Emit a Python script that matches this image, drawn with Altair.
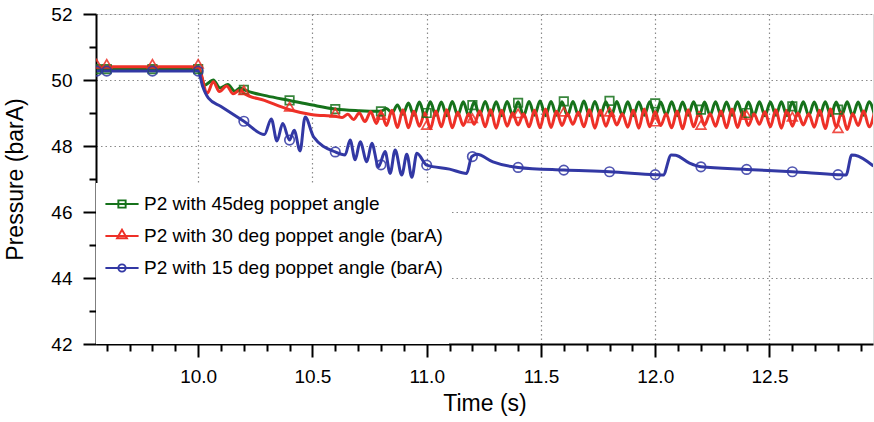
import altair as alt
import pandas as pd

# ---------------- data ----------------
S45 = "P2 with 45deg poppet angle"
S30 = "P2 with 30 deg poppet angle (barA)"
S15 = "P2 with 15 deg poppet angle (barA)"
SERIES = [S45, S30, S15]
COLORS = ["#16721b", "#ee3027", "#3238a4"]

# shared time stamps of the steady oscillation part (s)
OSC_T = [10.800, 10.824, 10.848, 10.872, 10.896, 10.920, 10.944, 10.968, 10.992, 11.016,
         11.040, 11.064, 11.088, 11.112, 11.136, 11.160, 11.184, 11.208, 11.232, 11.256,
         11.280, 11.304, 11.328, 11.352, 11.376, 11.400, 11.424, 11.448, 11.472, 11.496,
         11.520, 11.544, 11.568, 11.592, 11.616, 11.640, 11.664, 11.688, 11.712, 11.736,
         11.760, 11.784, 11.808, 11.832, 11.856, 11.880, 11.904, 11.928, 11.952, 11.976,
         12.000, 12.024, 12.048, 12.072, 12.096, 12.120, 12.144, 12.168, 12.192, 12.216,
         12.240, 12.264, 12.288, 12.312, 12.336, 12.360, 12.384, 12.408, 12.432, 12.456,
         12.480, 12.504, 12.528, 12.552, 12.576, 12.600, 12.624, 12.648, 12.672, 12.696,
         12.720, 12.744, 12.768, 12.792, 12.816, 12.840, 12.864, 12.888, 12.912, 12.936,
         12.960]

# 45 deg
G_T0 = [9.556, 9.6, 9.8, 10.0, 10.03, 10.066, 10.096, 10.13, 10.16, 10.184, 10.205,
        10.3, 10.4, 10.5, 10.6, 10.7, 10.78]
G_P0 = [50.33, 50.33, 50.33, 50.33, 49.85, 50.00, 49.76, 49.86, 49.66, 49.76, 49.69,
        49.52, 49.38, 49.24, 49.12, 49.07, 49.05]
G_OSC = [49.05, 49.14, 49.00, 49.24, 48.96, 49.30, 48.93, 49.33, 48.92, 49.34,
         48.93, 49.33, 48.92, 49.35, 48.93, 49.34, 48.92, 49.33, 48.94, 49.35,
         48.93, 49.34, 48.92, 49.35, 48.93, 49.34, 48.92, 49.35, 48.93, 49.36,
         48.92, 49.35, 48.93, 49.34, 48.92, 49.35, 48.93, 49.36, 48.92, 49.35,
         48.93, 49.34, 48.92, 49.35, 48.93, 49.34, 48.92, 49.33, 48.93, 49.34,
         48.92, 49.33, 48.93, 49.34, 48.92, 49.33, 48.93, 49.34, 48.92, 49.33,
         48.93, 49.34, 48.92, 49.33, 48.93, 49.34, 48.92, 49.33, 48.93, 49.34,
         48.92, 49.33, 48.93, 49.34, 48.92, 49.33, 48.93, 49.34, 48.92, 49.33,
         48.93, 49.34, 48.92, 49.33, 48.93, 49.34, 48.92, 49.33, 48.93, 49.34,
         48.93]

# 30 deg
R_T0 = [9.556, 9.6, 9.8, 10.0, 10.04, 10.066, 10.093, 10.125, 10.153, 10.184, 10.2,
        10.29, 10.4, 10.5, 10.6, 10.63, 10.655, 10.68, 10.705, 10.73, 10.755, 10.78]
R_P0 = [50.40, 50.40, 50.40, 50.40, 49.60, 49.95, 49.65, 49.82, 49.58, 49.70, 49.60,
        49.38, 49.10, 48.95, 48.90, 48.86, 48.96, 48.80, 49.00, 48.74, 49.04, 48.68]
R_OSC = [49.02, 48.62, 49.08, 48.56, 49.10, 48.55, 49.05, 48.60, 49.00, 48.52,
         49.06, 48.58, 49.10, 48.55, 49.02, 48.62, 48.98, 48.66, 49.06, 48.58,
         49.10, 48.54, 49.08, 48.60, 49.00, 48.64, 48.98, 48.58, 49.08, 48.55,
         49.12, 48.56, 49.05, 48.62, 48.98, 48.66, 49.02, 48.58, 49.10, 48.54,
         49.08, 48.60, 49.00, 48.64, 48.98, 48.57, 49.08, 48.54, 49.12, 48.58,
         49.04, 48.62, 48.98, 48.55, 49.06, 48.52, 49.10, 48.58, 49.02, 48.64,
         48.98, 48.60, 49.06, 48.55, 49.12, 48.56, 49.04, 48.62, 48.98, 48.66,
         49.04, 48.58, 49.10, 48.54, 49.08, 48.60, 49.00, 48.64, 48.98, 48.57,
         49.08, 48.53, 49.12, 48.56, 49.04, 48.50, 48.98, 48.62, 49.06, 48.58,
         49.04]

# 15 deg
B_T = [9.556, 9.6, 9.8, 10.0, 10.02, 10.045, 10.1, 10.2, 10.29, 10.32, 10.345, 10.37,
       10.4, 10.42, 10.446, 10.468, 10.505, 10.6, 10.643, 10.665, 10.687, 10.709, 10.738,
       10.76, 10.789, 10.818, 10.84, 10.862, 10.891, 10.913, 10.935, 10.957, 11.0, 11.1,
       11.175, 11.197, 11.22, 11.29, 11.4, 11.6, 11.8, 12.0, 12.035, 12.07, 12.09, 12.15,
       12.2, 12.4, 12.6, 12.8, 12.835, 12.86, 12.875, 12.955]
B_P = [50.27, 50.27, 50.27, 50.27, 49.80, 49.45, 49.20, 48.75, 48.35, 48.82, 48.15, 48.68,
       48.18, 48.48, 47.85, 48.88, 48.28, 47.82, 47.73, 48.18, 47.58, 48.13, 47.52,
       48.08, 47.37, 47.83, 47.17, 47.88, 47.12, 47.75, 47.05, 47.78, 47.42, 47.30,
       47.17, 47.68, 47.75, 47.52, 47.35, 47.27, 47.22, 47.13, 47.12, 47.73, 47.72, 47.48,
       47.37, 47.29, 47.22, 47.13, 47.12, 47.73, 47.72, 47.39]

# marker positions
MK_T = [9.556, 9.6, 9.8, 10.0, 10.2, 10.4, 10.6, 10.8, 11.0, 11.2, 11.4, 11.6, 11.8,
        12.0, 12.2, 12.4, 12.6, 12.8]
G_MK = [50.33, 50.33, 50.33, 50.33, 49.70, 49.38, 49.12, 49.05, 49.00, 49.24, 49.31,
        49.35, 49.37, 49.29, 49.10, 49.00, 49.20, 49.10]
R_MK = [50.40, 50.40, 50.40, 50.40, 49.60, 49.10, 48.92, 48.85, 48.55, 48.75, 48.90,
        48.95, 48.95, 48.65, 48.55, 48.85, 48.80, 48.45]
B_MK = [50.27, 50.27, 50.27, 50.27, 48.75, 48.18, 47.82, 47.43, 47.42, 47.68, 47.35,
        47.27, 47.22, 47.13, 47.37, 47.29, 47.22, 47.13]

X_MAJOR = [10.0, 10.5, 11.0, 11.5, 12.0, 12.5]
X_MINOR = [9.6, 9.7, 9.8, 9.9, 10.1, 10.2, 10.3, 10.4, 10.6, 10.7, 10.8, 10.9,
           11.1, 11.2, 11.3, 11.4, 11.6, 11.7, 11.8, 11.9, 12.1, 12.2, 12.3, 12.4,
           12.6, 12.7, 12.8, 12.9]
Y_MAJOR = [42, 44, 46, 48, 50, 52]
Y_MINOR = [43, 45, 47, 49, 51]

# legend symbols: short line with the marker in the middle
LEG_PATHS = [
    "M-1,0H1M-0.22,-0.22H0.22V0.22H-0.22Z",
    "M-1,0H1M0,-0.38L0.3,0.14H-0.3Z",
    "M-1,0H1M0.22,0A0.22,0.22,0,1,1,-0.22,0A0.22,0.22,0,1,1,0.22,0Z",
]

# ---------------- tables ----------------
rows = []
for t, p in zip(G_T0 + OSC_T, G_P0 + G_OSC):
    rows.append({"series": S45, "t": t, "p": p})
for t, p in zip(R_T0 + OSC_T, R_P0 + R_OSC):
    rows.append({"series": S30, "t": t, "p": p})
for t, p in zip(B_T, B_P):
    rows.append({"series": S15, "t": t, "p": p})
lines = pd.DataFrame(rows)

mrows = []
for s, vals in zip(SERIES, [G_MK, R_MK, B_MK]):
    for t, p in zip(MK_T, vals):
        mrows.append({"series": s, "t": t, "p": p})
marks = pd.DataFrame(mrows)
legend_df = pd.DataFrame({"series": SERIES})

FONT = "Liberation Sans"
xs = alt.Scale(domain=[9.553, 12.953], nice=False, zero=False)
ys = alt.Scale(domain=[42, 52], nice=False, zero=False)
cs = alt.Scale(domain=SERIES, range=COLORS)

x_main = alt.Axis(values=X_MAJOR, format=".1f", orient="bottom", title="Time (s)",
                  tickSize=13, tickWidth=2, tickColor="black", domainColor="black",
                  domainWidth=2, labelFontSize=19, labelColor="black", labelPadding=10,
                  labelFont=FONT, titleFont=FONT, titleFontSize=23, titleFontWeight="normal",
                  titleColor="black", titlePadding=6, grid=True, gridColor="#8a8a8a",
                  gridDash=[1.5, 3], gridWidth=1.2, labelFlush=False)
y_main = alt.Axis(values=Y_MAJOR, format="d", orient="left", title="Pressure (barA)",
                  tickSize=13, tickWidth=2, tickColor="black", domainColor="black",
                  domainWidth=2, labelFontSize=19, labelColor="black", labelPadding=11,
                  labelFont=FONT, titleFont=FONT, titleFontSize=23, titleFontWeight="normal",
                  titleColor="black", titlePadding=23, grid=True, gridColor="#8a8a8a",
                  gridDash=[1.5, 3], gridWidth=1.2, labelFlush=False)
x_minor = alt.Axis(values=X_MINOR, orient="bottom", title=None, labels=False, domain=False,
                   grid=False, tickSize=7, tickWidth=2, tickColor="black")
y_minor = alt.Axis(values=Y_MINOR, orient="left", title=None, labels=False, domain=False,
                   grid=False, tickSize=7, tickWidth=2, tickColor="black")

# white legend background box that hides the grid
bg = alt.Chart(legend_df).mark_rect(color="white").encode(
    x=alt.value(0), x2=alt.value(353), y=alt.value(169), y2=alt.value(330)
).transform_filter(alt.datum.series == S45)


def line_layer(i, xaxis=None, yaxis=None):
    return alt.Chart(lines).transform_filter(alt.datum.series == SERIES[i]).mark_line(
        interpolate="monotone", strokeWidth=3, clip=True, color=COLORS[i]
    ).encode(
        x=alt.X("t:Q", scale=xs, axis=xaxis),
        y=alt.Y("p:Q", scale=ys, axis=yaxis),
    )


def point_layer(i, shape, size, yoff=0):
    return alt.Chart(marks).transform_filter(alt.datum.series == SERIES[i]).mark_point(
        shape=shape, filled=False, size=size, strokeWidth=1.7, clip=True, yOffset=yoff,
        color=COLORS[i], opacity=0.85
    ).encode(
        x=alt.X("t:Q", scale=xs, axis=None),
        y=alt.Y("p:Q", scale=ys, axis=None),
    )


leg = alt.Legend(title=None, orient="none", legendX=8, legendY=172, symbolSize=1100,
                 symbolStrokeWidth=1.9, symbolOpacity=1, labelFontSize=19, labelFont=FONT,
                 labelColor="black", labelOffset=4, labelLimit=500, rowPadding=4, padding=0)

legend_layer = alt.Chart(legend_df).mark_point(filled=False, clip=True, strokeWidth=1.9,
                                               opacity=1).encode(
    x=alt.value(-200), y=alt.value(-200),
    color=alt.Color("series:N", scale=cs, legend=leg, sort=SERIES),
    shape=alt.Shape("series:N", scale=alt.Scale(domain=SERIES, range=LEG_PATHS),
                    legend=leg, sort=SERIES),
)

chart = alt.layer(
    bg,
    line_layer(0, x_main, y_main),
    line_layer(1, x_minor, y_minor),
    line_layer(2),
    point_layer(0, "square", 72),
    point_layer(1, "triangle-up", 95, -3),
    point_layer(2, "circle", 90),
    legend_layer,
).resolve_axis(x="independent", y="independent").properties(
    width=777, height=330,
    autosize=alt.AutoSizeParams(type="none"),
    padding={"left": 96, "top": 14, "right": 1, "bottom": 78},
).configure_view(stroke="#555", strokeWidth=1).configure(background="white")

chart.save("out.html", embed_options={"renderer": "svg", "actions": False})
